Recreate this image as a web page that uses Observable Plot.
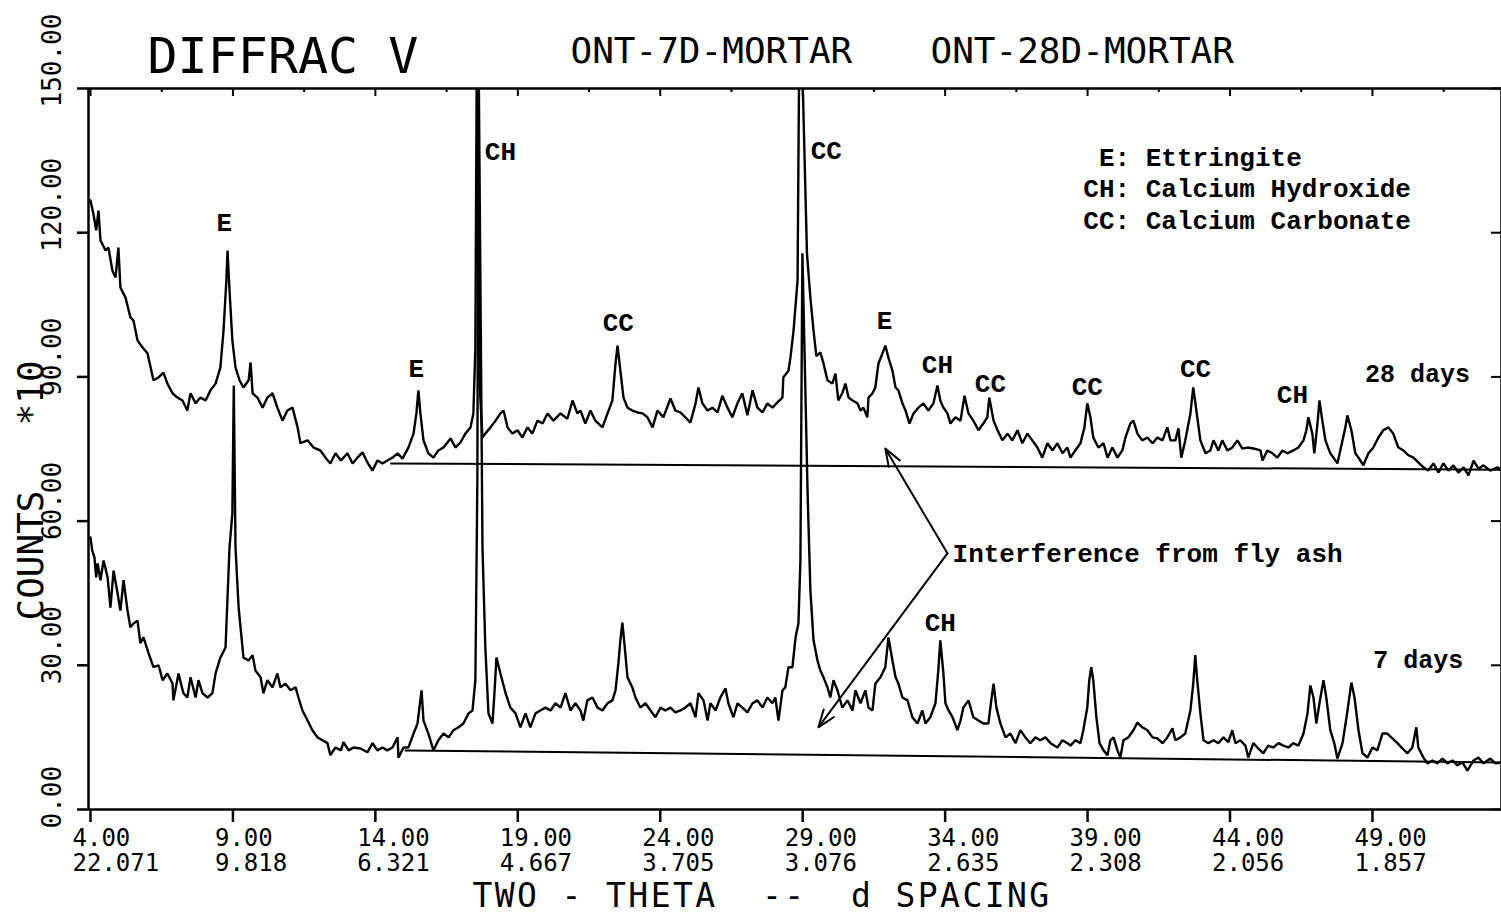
<!DOCTYPE html>
<html><head><meta charset="utf-8">
<script src="https://cdn.jsdelivr.net/npm/d3@7"></script>
<script src="https://cdn.jsdelivr.net/npm/@observablehq/plot@0.6"></script>
<style>
body{margin:0;background:#fff}
svg text{white-space:pre}
svg g[font-size="33"]{letter-spacing:2.4px}
</style></head>
<body><div id="chart"></div>
<script>
// ---- data (2-theta in degrees, counts in units of 10) ----
const scan28d = [[4.00,126.7],[4.10,124.0],[4.20,120.5],[4.28,124.6],[4.35,118.4],[4.53,116.3],[4.63,116.9],[4.77,112.1],[4.88,110.7],[4.98,116.9],[5.05,108.6],[5.23,106.5],[5.40,102.4],[5.51,101.7],[5.65,97.6],[5.83,96.1],[6.00,94.9],[6.11,92.0],[6.21,89.3],[6.39,89.9],[6.56,90.9],[6.70,88.6],[6.88,86.6],[7.05,85.7],[7.23,85.1],[7.40,83.0],[7.51,86.6],[7.69,84.5],[7.86,85.7],[8.04,85.1],[8.21,87.2],[8.39,88.6],[8.56,92.0],[8.67,99.7],[8.77,110.1],[8.81,116.3],[8.88,108.0],[8.98,97.6],[9.09,92.0],[9.23,89.3],[9.37,87.8],[9.55,89.3],[9.62,93.0],[9.69,86.6],[9.86,85.7],[10.04,83.6],[10.21,85.7],[10.39,86.6],[10.56,83.6],[10.74,80.9],[10.91,83.0],[11.09,83.6],[11.27,79.5],[11.37,76.2],[11.62,76.8],[11.83,75.3],[12.07,74.7],[12.25,73.2],[12.42,72.0],[12.60,74.1],[12.79,72.6],[13.02,74.1],[13.20,72.0],[13.37,73.2],[13.55,74.3],[13.72,72.2],[13.90,70.5],[14.07,72.6],[14.25,72.0],[14.42,72.6],[14.60,73.2],[14.78,74.1],[14.95,73.0],[15.16,75.3],[15.34,78.2],[15.44,82.4],[15.51,87.2],[15.58,82.4],[15.69,76.8],[15.86,74.1],[16.04,73.2],[16.21,74.7],[16.39,75.3],[16.64,77.2],[16.81,75.3],[16.99,76.4],[17.16,78.2],[17.34,79.5],[17.44,82.4],[17.51,96.1],[17.57,170],[17.65,89.3],[17.76,77.4],[17.86,78.2],[18.04,79.5],[18.22,80.9],[18.39,82.4],[18.50,83.0],[18.64,79.5],[18.81,78.2],[18.99,78.9],[19.16,77.4],[19.34,79.5],[19.51,78.2],[19.69,80.9],[19.87,80.3],[20.04,82.4],[20.25,80.9],[20.50,82.4],[20.74,81.3],[20.92,85.1],[21.09,82.4],[21.20,83.0],[21.37,80.3],[21.55,83.0],[21.72,80.9],[21.97,79.5],[22.15,82.4],[22.32,85.1],[22.43,92.8],[22.50,96.5],[22.60,91.3],[22.71,85.7],[22.85,83.6],[23.02,83.0],[23.20,82.6],[23.38,82.4],[23.55,81.6],[23.73,79.5],[23.90,83.0],[24.11,81.6],[24.36,85.5],[24.53,83.0],[24.71,82.6],[24.88,81.6],[25.06,80.5],[25.24,84.5],[25.34,87.8],[25.48,84.5],[25.66,83.0],[25.83,83.6],[26.01,82.6],[26.18,86.1],[26.36,83.6],[26.53,81.6],[26.71,84.5],[26.88,86.6],[27.06,82.0],[27.24,87.2],[27.41,83.6],[27.59,82.6],[27.76,84.5],[27.94,83.6],[28.11,84.7],[28.29,85.7],[28.32,89.9],[28.50,91.3],[28.57,94.0],[28.68,99.7],[28.82,110.1],[28.90,175],[29.15,115.7],[29.27,106.5],[29.38,99.7],[29.48,94.3],[29.62,95.1],[29.73,92.8],[29.87,89.3],[30.04,88.6],[30.15,90.7],[30.25,85.1],[30.39,86.6],[30.50,88.6],[30.61,85.7],[30.75,85.1],[30.92,84.5],[31.03,83.0],[31.13,83.6],[31.27,81.6],[31.31,85.7],[31.45,86.6],[31.55,87.8],[31.66,92.8],[31.80,94.9],[31.90,96.5],[32.01,94.0],[32.15,91.3],[32.26,87.8],[32.36,87.2],[32.50,84.5],[32.61,83.0],[32.75,80.3],[32.89,82.4],[33.06,83.6],[33.24,84.5],[33.41,83.0],[33.59,84.5],[33.73,88.2],[33.83,85.1],[33.94,83.6],[34.08,82.4],[34.19,80.3],[34.36,81.6],[34.54,80.9],[34.68,86.1],[34.82,82.4],[34.99,80.9],[35.17,78.9],[35.34,80.3],[35.48,81.6],[35.55,85.7],[35.70,80.9],[35.84,78.9],[36.01,76.8],[36.19,78.2],[36.36,76.8],[36.54,78.9],[36.71,76.2],[36.89,78.2],[37.06,76.8],[37.24,75.3],[37.41,73.2],[37.59,76.2],[37.77,74.7],[37.94,76.2],[38.12,74.1],[38.29,75.3],[38.40,73.2],[38.57,74.7],[38.75,76.2],[38.89,79.5],[38.99,84.5],[39.10,81.6],[39.20,77.4],[39.38,75.3],[39.56,76.2],[39.70,73.2],[39.87,75.3],[40.05,73.2],[40.22,74.7],[40.33,77.4],[40.50,80.3],[40.61,80.9],[40.75,78.2],[40.92,76.8],[41.10,77.4],[41.28,76.2],[41.45,77.4],[41.63,76.8],[41.80,79.5],[41.91,76.8],[42.08,76.8],[42.19,79.3],[42.29,73.2],[42.43,76.8],[42.61,82.4],[42.71,87.8],[42.85,81.6],[42.96,76.8],[43.14,74.1],[43.31,74.7],[43.42,76.8],[43.59,74.7],[43.73,76.8],[43.91,74.7],[44.08,75.3],[44.26,76.8],[44.43,75.1],[44.61,75.3],[44.82,75.1],[45.07,74.7],[45.14,72.6],[45.31,74.7],[45.49,74.1],[45.66,73.2],[45.84,74.7],[46.01,74.1],[46.22,74.7],[46.40,75.3],[46.58,76.8],[46.68,78.9],[46.75,81.6],[46.89,78.2],[46.96,74.1],[47.07,80.3],[47.14,85.1],[47.24,80.9],[47.35,76.8],[47.52,74.1],[47.63,73.2],[47.77,72.0],[47.95,76.8],[48.05,79.5],[48.12,82.0],[48.26,78.9],[48.40,74.1],[48.51,73.2],[48.68,71.6],[48.86,74.1],[49.03,75.3],[49.21,77.4],[49.38,78.9],[49.56,79.5],[49.73,78.2],[49.91,75.3],[50.09,74.7],[50.26,73.7],[50.44,73.2],[50.61,72.2],[50.79,71.2],[50.96,70.5],[51.14,72.0],[51.32,70.1],[51.49,72.0],[51.67,70.5],[51.84,71.6],[52.02,70.1],[52.20,71.2],[52.37,69.5],[52.55,72.6],[52.72,70.9],[52.90,71.6],[53.14,70.5],[53.39,71.2],[53.53,70.5]];

const scan7d = [[4.00,56.6],[4.06,53.9],[4.14,52.4],[4.20,48.3],[4.25,51.2],[4.35,47.7],[4.46,51.8],[4.60,48.3],[4.70,42.0],[4.81,49.7],[4.95,45.0],[5.05,41.4],[5.16,47.7],[5.30,41.4],[5.40,37.9],[5.51,38.7],[5.65,39.3],[5.75,34.6],[5.86,35.8],[6.04,32.5],[6.21,29.6],[6.39,30.0],[6.53,26.9],[6.70,28.3],[6.88,26.2],[6.91,22.7],[7.09,28.3],[7.26,24.2],[7.40,23.3],[7.51,27.5],[7.69,23.3],[7.79,26.9],[7.93,24.2],[8.11,23.3],[8.28,24.2],[8.39,28.3],[8.56,31.6],[8.74,33.7],[8.81,44.1],[8.88,54.5],[8.98,61.6],[9.03,88.2],[9.09,54.5],[9.20,42.0],[9.37,31.6],[9.55,31.0],[9.69,32.1],[9.79,28.9],[9.97,27.5],[10.07,24.2],[10.21,26.9],[10.39,25.4],[10.56,28.3],[10.67,25.4],[10.84,26.2],[11.02,24.8],[11.20,25.4],[11.30,23.3],[11.44,20.6],[11.62,18.5],[11.79,16.5],[11.97,15.0],[12.14,14.4],[12.32,13.8],[12.42,11.3],[12.60,12.9],[12.79,12.3],[12.88,14.0],[13.06,12.3],[13.23,12.9],[13.48,12.7],[13.72,11.9],[13.90,13.8],[14.07,12.3],[14.25,12.9],[14.42,12.3],[14.60,12.9],[14.78,15.0],[14.81,10.8],[14.99,12.9],[15.16,12.9],[15.34,15.8],[15.48,17.9],[15.62,24.8],[15.69,18.5],[15.86,15.8],[16.04,12.3],[16.21,14.4],[16.39,15.8],[16.57,15.0],[16.74,16.5],[16.92,17.1],[17.09,17.9],[17.27,20.0],[17.41,20.6],[17.51,26.9],[17.58,68.5],[17.62,160],[17.76,54.5],[17.86,33.7],[17.97,20.0],[18.11,17.9],[18.18,24.2],[18.25,31.6],[18.39,28.3],[18.57,24.2],[18.74,21.2],[18.92,20.0],[19.09,17.1],[19.27,20.0],[19.44,17.1],[19.62,20.0],[19.79,20.6],[19.97,21.2],[20.15,20.6],[20.32,22.1],[20.50,21.2],[20.67,24.2],[20.85,20.6],[21.02,22.1],[21.20,20.6],[21.30,18.5],[21.44,22.7],[21.62,23.3],[21.80,21.2],[21.97,20.6],[22.15,22.1],[22.32,22.7],[22.43,24.8],[22.53,30.4],[22.60,35.2],[22.67,38.9],[22.74,34.6],[22.85,27.5],[23.02,25.4],[23.13,23.3],[23.30,21.2],[23.48,22.1],[23.66,20.6],[23.83,19.2],[24.01,21.2],[24.18,20.6],[24.36,21.2],[24.53,20.2],[24.71,20.6],[24.88,21.2],[25.06,22.1],[25.24,19.2],[25.34,24.2],[25.52,22.7],[25.66,18.5],[25.76,22.1],[25.94,20.6],[26.11,23.3],[26.29,25.2],[26.39,22.1],[26.57,19.2],[26.71,22.1],[26.88,21.2],[27.06,20.2],[27.24,22.1],[27.41,22.7],[27.59,21.2],[27.76,23.3],[27.94,22.1],[28.04,23.3],[28.15,18.5],[28.29,24.8],[28.39,25.4],[28.50,29.6],[28.64,29.6],[28.75,35.8],[28.85,38.7],[28.92,51.8],[28.99,115.7],[29.17,66.4],[29.27,45.6],[29.38,35.2],[29.52,31.0],[29.62,28.9],[29.73,27.5],[29.87,25.4],[29.97,23.3],[30.08,26.9],[30.22,24.8],[30.39,21.2],[30.57,22.7],[30.75,20.6],[30.85,24.8],[31.03,22.1],[31.20,24.8],[31.31,21.2],[31.45,20.6],[31.55,26.2],[31.73,27.5],[31.90,29.6],[32.01,35.8],[32.15,31.0],[32.26,27.5],[32.36,26.2],[32.50,23.3],[32.68,22.7],[32.85,19.2],[33.03,17.9],[33.20,20.6],[33.31,17.9],[33.48,19.2],[33.66,22.1],[33.76,28.9],[33.83,35.2],[33.94,28.3],[34.01,22.1],[34.12,20.6],[34.26,19.2],[34.43,16.5],[34.54,18.5],[34.64,21.2],[34.82,22.7],[34.99,19.2],[35.17,18.5],[35.34,17.9],[35.52,17.9],[35.62,22.7],[35.70,26.2],[35.80,21.2],[35.94,17.9],[36.12,15.0],[36.29,15.8],[36.47,13.8],[36.64,16.5],[36.82,15.0],[36.99,13.8],[37.17,15.0],[37.34,14.4],[37.52,15.0],[37.70,13.8],[37.94,12.9],[38.12,14.4],[38.29,13.8],[38.40,13.3],[38.57,14.4],[38.75,13.8],[38.85,16.5],[38.99,21.2],[39.06,26.9],[39.13,29.6],[39.20,26.9],[39.31,19.2],[39.42,13.8],[39.56,12.3],[39.70,11.3],[39.80,14.4],[39.91,15.0],[40.05,12.3],[40.15,10.8],[40.26,14.4],[40.43,15.0],[40.61,16.5],[40.75,18.1],[40.92,17.1],[41.10,16.5],[41.28,15.0],[41.45,14.8],[41.63,13.8],[41.80,15.0],[41.98,16.9],[42.08,14.4],[42.26,15.0],[42.43,15.8],[42.61,20.6],[42.71,26.2],[42.78,32.1],[42.85,26.9],[42.96,20.0],[43.07,14.4],[43.24,13.8],[43.42,14.4],[43.59,13.8],[43.77,15.0],[43.94,14.0],[44.08,16.5],[44.19,13.8],[44.36,14.4],[44.54,13.3],[44.64,10.8],[44.82,13.8],[44.99,12.7],[45.17,11.7],[45.34,13.3],[45.52,12.9],[45.70,13.8],[45.87,13.3],[46.05,12.9],[46.22,13.8],[46.40,13.3],[46.58,15.8],[46.72,20.0],[46.82,25.8],[46.93,23.3],[47.03,17.9],[47.14,22.1],[47.28,26.9],[47.38,23.3],[47.52,16.5],[47.66,13.8],[47.77,10.6],[47.95,13.8],[48.09,19.2],[48.26,26.4],[48.37,23.3],[48.51,16.5],[48.65,11.7],[48.83,10.8],[49.00,12.9],[49.17,12.3],[49.35,15.8],[49.52,15.8],[49.70,14.8],[49.88,13.8],[50.05,12.7],[50.23,11.7],[50.40,12.9],[50.54,17.1],[50.61,12.9],[50.79,10.8],[50.93,9.6],[51.11,10.2],[51.28,9.6],[51.46,10.6],[51.63,9.6],[51.81,10.2],[51.98,9.2],[52.16,9.8],[52.33,8.1],[52.55,10.2],[52.72,10.8],[52.90,9.6],[53.14,10.6],[53.32,9.6],[53.53,9.8]];

// straight background lines drawn under each scan
const baseline28d = [[14.55,72.0],[53.53,70.7]];
const baseline7d = [[15.06,12.3],[53.53,9.8]];

// axis ticks
const xTicks = [4, 9, 14, 19, 24, 29, 34, 39, 44, 49];
const dSpacing = ["22.071","9.818","6.321","4.667","3.705","3.076","2.635","2.308","2.056","1.857"];
const xMinorTicks = [6.5, 11.5, 16.5, 21.5, 26.5, 31.5, 36.5, 41.5, 46.5, 51.5];
const yTicks = [0, 30, 60, 90, 120, 150];

// peak labels: [2-theta, counts, text]
const peaks28d = [[8.70,122.1,"E"],[15.44,91.8,"E"],[18.39,136.9,"CH"],[22.53,101.3,"CC"],[29.83,137.1,"CC"],[31.87,101.7,"E"],[33.73,92.6,"CH"],[35.59,88.6,"CC"],[38.99,88.0,"CC"],[42.79,91.8,"CC"],[46.19,86.3,"CH"]];
const peaks7d = [[33.83,38.9,"CH"]];
const seriesNames = [[50.58,90.5,"28 days"],[50.61,31.2,"7 days"]];
const legendLines = [[38.85,135.6," E: Ettringite"],[38.85,129.2,"CH: Calcium Hydroxide"],[38.85,122.5,"CC: Calcium Carbonate"]];
const noteText = [[34.26,53.3,"Interference from fly ash"]];
const noteArrows = [[34.08,53.3,31.90,75.1],[34.08,53.3,29.55,17.1]];

const titles = ["DIFFRAC V", "ONT-7D-MORTAR", "ONT-28D-MORTAR"];
const xTitle = "TWO - THETA  --  d SPACING";
const yTitle = "COUNTS   *10";

// ---- layout ----
const W = 1501, H = 915, mT = 88, mB = 106, mL = 88, mR = 0;
const plotH = H - mT - mB, plotW = W - mL - mR;
const plotFont = "'DejaVu Sans Mono', monospace";
const typeFont = "'Liberation Mono', 'DejaVu Sans Mono', monospace";

const toXY = a => a.map(([x, y]) => ({x, y}));
const toLab = a => a.map(([x, y, t]) => ({x, y, t}));

const chart = Plot.plot({
  width: W, height: H,
  marginTop: mT, marginBottom: mB, marginLeft: mL, marginRight: mR,
  style: {background: "white", color: "black", fontFamily: plotFont, overflow: "visible"},
  x: {domain: [3.93, 53.53], axis: null},
  y: {domain: [0, 150], axis: null},
  marks: [
    // frame and ticks
    Plot.frame({stroke: "black", strokeWidth: 2.5}),
    Plot.axisX({anchor: "bottom", ticks: xTicks, tickSize: 13, tickFormat: () => "", label: null, strokeWidth: 2.5}),
    Plot.axisY({anchor: "left", ticks: yTicks, tickSize: 11, tickFormat: () => "", label: null, strokeWidth: 2.5}),
    Plot.tickX(xTicks, {x: d => d, insetBottom: plotH - 8, stroke: "black", strokeWidth: 2}),
    Plot.tickX(xMinorTicks, {x: d => d, insetBottom: plotH - 4, stroke: "black", strokeWidth: 2}),
    Plot.tickY(yTicks, {y: d => d, insetLeft: plotW - 10, stroke: "black", strokeWidth: 2}),

    // tick labels
    Plot.text(xTicks, {x: d => d, frameAnchor: "bottom", lineAnchor: "middle", text: d => d.toFixed(2), textAnchor: "start", dx: -18, dy: 29, fontSize: 24, fill: "black"}),
    Plot.text(xTicks.map((t, i) => ({t, d: dSpacing[i]})), {x: "t", frameAnchor: "bottom", lineAnchor: "middle", text: "d", textAnchor: "start", dx: -18, dy: 54, fontSize: 24, fill: "black"}),
    Plot.text(yTicks, {y: d => d, frameAnchor: "left", lineAnchor: "middle", text: d => d.toFixed(2), rotate: -90, textAnchor: "start", dx: -36, dy: 19, fontSize: 26, fill: "black"}),

    // axis titles and header
    Plot.text([xTitle], {frameAnchor: "bottom-left", lineAnchor: "middle", text: d => d, textAnchor: "start", dx: 472 - mL, dy: 87, fontSize: 33, fill: "black"}),
    Plot.text([yTitle], {frameAnchor: "left", lineAnchor: "middle", text: d => d, rotate: -90, textAnchor: "start", dx: 31 - mL, dy: 620 - (mT + plotH / 2), fontSize: 36, fill: "black"}),
    Plot.text([titles[0]], {frameAnchor: "top-left", lineAnchor: "middle", text: d => d, textAnchor: "start", dx: 147 - mL, dy: 56 - mT, fontSize: 50, fill: "black"}),
    Plot.text([titles[1]], {frameAnchor: "top-left", lineAnchor: "middle", text: d => d, textAnchor: "start", dx: 570 - mL, dy: 51 - mT, fontSize: 36, fill: "black"}),
    Plot.text([titles[2]], {frameAnchor: "top-left", lineAnchor: "middle", text: d => d, textAnchor: "start", dx: 930 - mL, dy: 51 - mT, fontSize: 36, fill: "black"}),

    // baselines and scans
    Plot.line(toXY(baseline28d), {x: "x", y: "y", stroke: "black", strokeWidth: 2}),
    Plot.line(toXY(baseline7d), {x: "x", y: "y", stroke: "black", strokeWidth: 2}),
    Plot.line(toXY(scan28d), {x: "x", y: "y", stroke: "black", strokeWidth: 2.4, clip: true, strokeLinejoin: "miter"}),
    Plot.line(toXY(scan7d), {x: "x", y: "y", stroke: "black", strokeWidth: 2.4, clip: true, strokeLinejoin: "miter"}),

    // annotations
    Plot.text(toLab(peaks28d), {x: "x", y: "y", text: "t", fontFamily: typeFont, fontWeight: "bold", fontSize: 26, fill: "black"}),
    Plot.text(toLab(peaks7d), {x: "x", y: "y", text: "t", fontFamily: typeFont, fontWeight: "bold", fontSize: 26, fill: "black"}),
    Plot.text(toLab(seriesNames), {x: "x", y: "y", text: "t", fontFamily: typeFont, fontWeight: "bold", fontSize: 25, fill: "black"}),
    Plot.text(toLab(legendLines), {x: "x", y: "y", text: "t", textAnchor: "start", fontFamily: typeFont, fontWeight: "bold", fontSize: 26, fill: "black"}),
    Plot.text(toLab(noteText), {x: "x", y: "y", text: "t", textAnchor: "start", fontFamily: typeFont, fontWeight: "bold", fontSize: 26, fill: "black"}),
    Plot.arrow(noteArrows.map(([x1, y1, x2, y2]) => ({x1, y1, x2, y2})), {x1: "x1", y1: "y1", x2: "x2", y2: "y2", stroke: "black", strokeWidth: 2, headLength: 14, headAngle: 40})
  ]
});
document.getElementById("chart").append(chart);
</script>
</body></html>
